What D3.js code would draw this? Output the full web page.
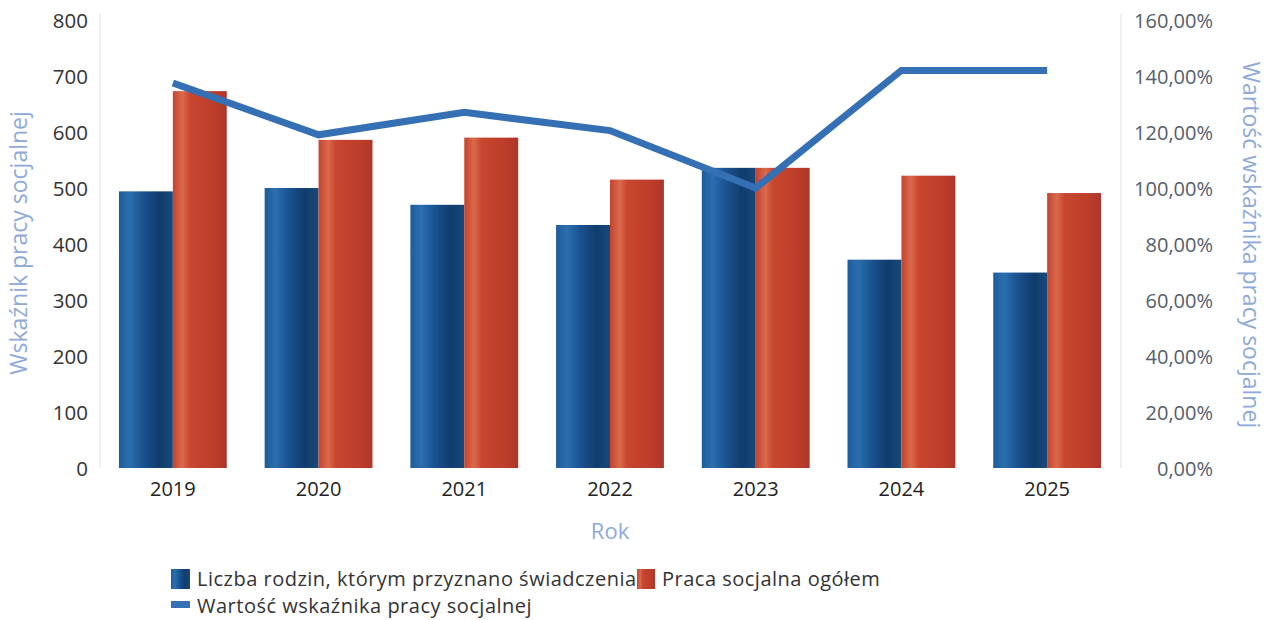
<!DOCTYPE html>
<html>
<head>
<meta charset="utf-8">
<script src="https://cdn.jsdelivr.net/npm/d3@7"></script>
<style>
  body { margin: 0; background: #fff; }
  text { font-family: "Open Sans", "DejaVu Sans", sans-serif; }
</style>
</head>
<body>
<div id="chart"></div>
<script>
// data
var years = ["2019", "2020", "2021", "2022", "2023", "2024", "2025"];
var rodziny = [494, 500, 470, 434, 536, 372, 349];
var praca = [673, 586, 590, 515, 536, 522, 491];
var wskaznik = [1.375, 1.19, 1.27, 1.205, 1.0, 1.42, 1.42];
var leftTicks = [0, 100, 200, 300, 400, 500, 600, 700, 800];
var rightTicks = [0, 0.2, 0.4, 0.6, 0.8, 1.0, 1.2, 1.4, 1.6];

var width = 1269, height = 620;
var svg = d3.select("#chart").append("svg")
    .attr("width", width).attr("height", height);

var x = d3.scaleBand().domain(years).range([100, 1120])
    .paddingInner(0.26).paddingOuter(0.13);
var sub = d3.scaleBand().domain(["a", "b"]).range([0, x.bandwidth()]);
var yL = d3.scaleLinear().domain([0, 800]).range([468, 20]);
var yR = d3.scaleLinear().domain([0, 1.6]).range([468, 20]);

// gradients for the cylinder look
var defs = svg.append("defs");
function grad(id, stops) {
  var g = defs.append("linearGradient").attr("id", id)
      .attr("x1", "0%").attr("x2", "100%").attr("y1", "0%").attr("y2", "0%");
  stops.forEach(function(s) {
    g.append("stop").attr("offset", s[0]).attr("stop-color", s[1]);
  });
}
grad("gBlue", [["0%", "#1e5c9a"], ["20%", "#2b6fae"], ["45%", "#1a5290"], ["75%", "#103c6c"], ["100%", "#174a7c"]]);
grad("gRed", [["0%", "#c4432f"], ["18%", "#da6a4c"], ["32%", "#c8472f"], ["75%", "#be3d2b"], ["100%", "#ad3629"]]);

// faint frame lines
svg.append("line").attr("x1", 100).attr("x2", 100).attr("y1", 14).attr("y2", 468)
    .attr("stroke", "#eef0f3").attr("stroke-width", 2);
svg.append("line").attr("x1", 1121).attr("x2", 1121).attr("y1", 14).attr("y2", 468)
    .attr("stroke", "#eef0f3").attr("stroke-width", 2);

// left axis
var axL = svg.append("g").attr("transform", "translate(88,0)")
    .call(d3.axisLeft(yL).tickValues(leftTicks).tickSize(0).tickPadding(0));
axL.select(".domain").remove();
axL.selectAll("text").attr("font-size", 20.5).attr("fill", "#333").attr("dy", "0.36em");

// right axis
var fmt = function(v) { return d3.format(".2f")(v * 100).replace(".", ",") + "%"; };
var axR = svg.append("g").attr("transform", "translate(1213,0)")
    .call(d3.axisLeft(yR).tickValues(rightTicks).tickFormat(fmt).tickSize(0).tickPadding(0));
axR.select(".domain").remove();
axR.selectAll("text").attr("font-size", 20).attr("fill", "#55606b").attr("dy", "0.36em");

// x axis
var axX = svg.append("g").attr("transform", "translate(0,478)")
    .call(d3.axisBottom(x).tickSize(0).tickPadding(0));
axX.select(".domain").remove();
axX.selectAll("text").attr("font-size", 20).attr("fill", "#222").attr("dy", "0.9em");

// axis titles
svg.append("text").attr("transform", "translate(27,243) rotate(-90)")
    .attr("text-anchor", "middle").attr("font-size", 23).attr("fill", "#8eaad8")
    .text("Wskaźnik pracy socjalnej");
svg.append("text").attr("transform", "translate(1243,245) rotate(90)")
    .attr("text-anchor", "middle").attr("font-size", 23).attr("fill", "#8eaad8")
    .text("Wartość wskaźnika pracy socjalnej");
svg.append("text").attr("x", 610).attr("y", 539)
    .attr("text-anchor", "middle").attr("font-size", 22).attr("fill", "#8eaad8")
    .text("Rok");

// bars
var groups = svg.selectAll("g.grp").data(years).enter().append("g")
    .attr("class", "grp")
    .attr("transform", function(d) { return "translate(" + x(d) + ",0)"; });
groups.append("rect")
    .attr("x", sub("a")).attr("width", sub.bandwidth())
    .attr("y", function(d, i) { return yL(rodziny[i]); })
    .attr("height", function(d, i) { return yL(0) - yL(rodziny[i]); })
    .attr("fill", "url(#gBlue)");
groups.append("rect")
    .attr("x", sub("b")).attr("width", sub.bandwidth())
    .attr("y", function(d, i) { return yL(praca[i]); })
    .attr("height", function(d, i) { return yL(0) - yL(praca[i]); })
    .attr("fill", "url(#gRed)");

// line
var line = d3.line()
    .x(function(d, i) { return x(years[i]) + x.bandwidth() / 2; })
    .y(function(d) { return yR(d); });
svg.append("path").datum(wskaznik)
    .attr("d", line).attr("fill", "none")
    .attr("stroke", "#3570b5").attr("stroke-width", 7)
    .attr("stroke-linejoin", "miter");

// legend
var lg = svg.append("g");
lg.append("rect").attr("x", 171).attr("y", 569).attr("width", 19).attr("height", 20).attr("fill", "url(#gBlue)");
lg.append("text").attr("x", 197).attr("y", 586).attr("font-size", 20).attr("letter-spacing", 0.5).attr("fill", "#333")
    .text("Liczba rodzin, którym przyznano świadczenia");
lg.append("rect").attr("x", 637).attr("y", 569).attr("width", 18).attr("height", 20).attr("fill", "url(#gRed)");
lg.append("text").attr("x", 662).attr("y", 586).attr("font-size", 20).attr("letter-spacing", 0.5).attr("fill", "#333")
    .text("Praca socjalna ogółem");
lg.append("rect").attr("x", 171).attr("y", 601).attr("width", 19).attr("height", 7).attr("fill", "#3570b5");
lg.append("text").attr("x", 197).attr("y", 613).attr("font-size", 20).attr("letter-spacing", 0.5).attr("fill", "#333")
    .text("Wartość wskaźnika pracy socjalnej");
</script>
</body>
</html>
